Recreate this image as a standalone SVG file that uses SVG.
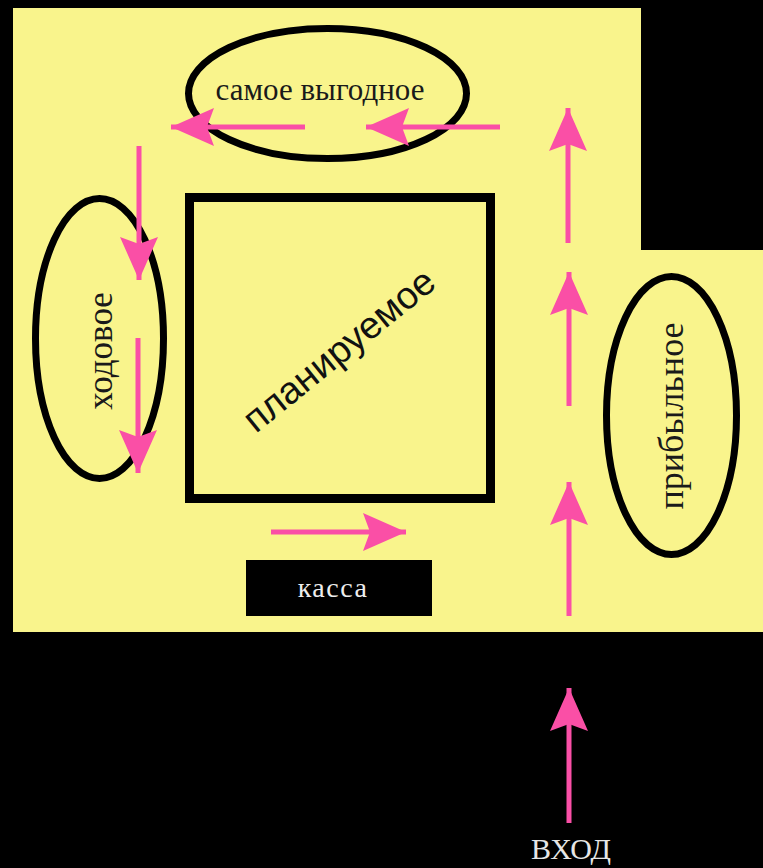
<svg xmlns="http://www.w3.org/2000/svg" width="763" height="868" viewBox="0 0 763 868">
<style>
.zone{fill:none;stroke:#000;stroke-width:7}
.flow{stroke:#fa4fa6;stroke-width:5;fill:none;marker-end:url(#ah)}
.lbl{font-family:"Liberation Serif","Times New Roman",serif;fill:#1a1a1a}
</style>
<defs>
<marker id="ah" markerUnits="userSpaceOnUse" viewBox="0 -19 43 38" markerWidth="43" markerHeight="38" refX="43" refY="0" orient="auto">
<path d="M0,-19 L43,0 L0,19 L7,0 Z" fill="#fa4fa6"/>
</marker>
</defs>
<rect x="0" y="0" width="763" height="868" fill="#000"/>
<polygon points="13,8 641,8 641,250 763,250 763,632 13,632" fill="#f9f48c"/>
<g id="zone-best">
<ellipse class="zone" cx="327.5" cy="93.5" rx="139" ry="65"/>
<text class="lbl" x="320" y="100" font-size="31" text-anchor="middle">самое выгодное</text>
</g>
<g id="zone-walk">
<ellipse class="zone" cx="99.5" cy="338.5" rx="64" ry="140"/>
<text class="lbl" transform="translate(112,351) rotate(-90)" font-size="35" text-anchor="middle">ходовое</text>
</g>
<g id="zone-profit">
<ellipse class="zone" cx="671.5" cy="415.5" rx="65" ry="139"/>
<text class="lbl" transform="translate(683,416) rotate(-90)" font-size="36" text-anchor="middle">прибыльное</text>
</g>
<g id="zone-planned">
<rect x="189.5" y="197.5" width="301" height="301" fill="none" stroke="#000" stroke-width="9"/>
<text transform="translate(347,360) rotate(-39)" font-family="Liberation Sans, Arial, sans-serif" font-size="38" fill="#111" text-anchor="middle">планируемое</text>
</g>
<g id="cashier">
<rect x="246" y="560" width="186" height="56" fill="#000"/>
<text class="lbl" x="333" y="597" font-size="28" letter-spacing="1.5" style="fill:#eee" text-anchor="middle">касса</text>
</g>
<g id="entrance">
<text class="lbl" x="571" y="859" font-size="30" style="fill:#e6e6e6" text-anchor="middle">ВХОД</text>
</g>
<g id="connectors">
<line class="flow" x1="569" y1="823" x2="569" y2="688"/>
<line class="flow" x1="569" y1="616" x2="569" y2="482"/>
<line class="flow" x1="569" y1="406" x2="569" y2="272"/>
<line class="flow" x1="568" y1="243" x2="568" y2="108"/>
<line class="flow" x1="500" y1="127" x2="366" y2="127"/>
<line class="flow" x1="305" y1="127" x2="171" y2="127"/>
<line class="flow" x1="139" y1="146" x2="139" y2="280"/>
<line class="flow" x1="138" y1="338" x2="138" y2="473"/>
<line class="flow" x1="271" y1="532" x2="406" y2="532"/>
</g>
</svg>
